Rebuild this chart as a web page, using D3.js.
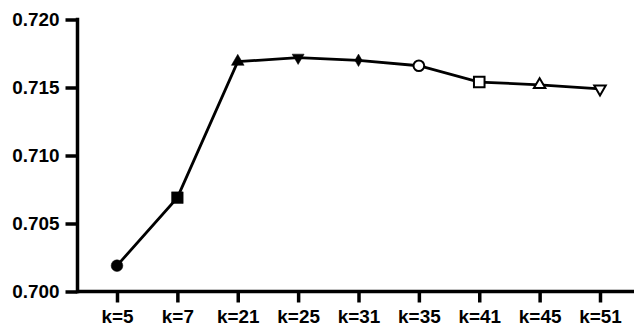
<!DOCTYPE html>
<html>
<head>
<meta charset="utf-8">
<script src="https://cdn.jsdelivr.net/npm/d3@7"></script>
<style>
  html, body { margin: 0; padding: 0; background: #fff; }
  svg text { font-family: "Liberation Sans", Arial, sans-serif; font-weight: bold; fill: #000; }
</style>
</head>
<body>
<svg id="chart" width="634" height="331"></svg>
<script>
// k values and the score reached at each
const categories = ["k=5", "k=7", "k=21", "k=25", "k=31", "k=35", "k=41", "k=45", "k=51"];
const scores = [0.7019, 0.7069, 0.7169, 0.7172, 0.7170, 0.7166, 0.7154, 0.7152, 0.7149];
// marker for each point: shape and whether filled
const shapes = ["circle", "square", "triangle", "triangleDown", "diamond", "circle", "square", "triangle", "triangleDown"];
const filled = [true, true, true, true, true, false, false, false, false];
const yTicks = [0.700, 0.705, 0.710, 0.715, 0.720];

const svg = d3.select("#chart");
const x = d3.scalePoint().domain(categories).range([117, 600]);
const y = d3.scaleLinear().domain([0.700, 0.720]).range([291.5, 19.5]);
const axisLeftX = 77.5;
const fontSize = 18;
const stretch = 1.05;

// y axis
const yAxis = svg.append("g")
  .attr("transform", `translate(${axisLeftX},0)`)
  .call(d3.axisLeft(y).tickValues(yTicks).tickFormat(d3.format(".3f")).tickSize(12));
yAxis.select(".domain").remove();
yAxis.append("line").attr("x1", 0).attr("x2", 0).attr("y1", y(0.720) - 1.75).attr("y2", y(0.700) + 1.75)
  .attr("stroke", "#000").attr("stroke-width", 3.5);
yAxis.selectAll(".tick line").attr("stroke", "#000").attr("stroke-width", 3.5);
yAxis.selectAll(".tick text")
  .attr("font-size", fontSize)
  .attr("dy", "0.36em")
  .attr("transform", `scale(${stretch},1)`)
  .attr("x", -18 / stretch);

// x axis
const xAxis = svg.append("g")
  .attr("transform", `translate(0,${y(0.700)})`)
  .call(d3.axisBottom(x).tickSize(11).tickPadding(8));
xAxis.select(".domain").remove();
xAxis.append("line").attr("x1", axisLeftX).attr("x2", 634).attr("y1", 0).attr("y2", 0)
  .attr("stroke", "#000").attr("stroke-width", 3.5);
xAxis.selectAll(".tick line").attr("stroke", "#000").attr("stroke-width", 3.5);
xAxis.selectAll(".tick text")
  .attr("font-size", fontSize)
  .attr("dy", "0.71em")
  .attr("transform", `scale(${stretch},1)`);

// line through the scores
const line = d3.line().x((d, i) => x(categories[i])).y(d => y(d));
svg.append("path").datum(scores)
  .attr("d", line).attr("fill", "none").attr("stroke", "#000").attr("stroke-width", 2.8);

// markers
const symbolFor = {
  circle: d3.symbolCircle,
  square: d3.symbolSquare,
  triangle: d3.symbolTriangle,
  triangleDown: d3.symbolTriangle,
  diamond: d3.symbolDiamond
};
const filledSize = { circle: 107, square: 135, triangle: 70, triangleDown: 62, diamond: 45 };
const openSize = { circle: 90, square: 112, triangle: 57, triangleDown: 57, diamond: 45 };
svg.append("g").selectAll("path")
  .data(scores)
  .join("path")
  .attr("transform", (d, i) => {
    const r = shapes[i] === "triangleDown" ? " rotate(180)" : "";
    return `translate(${x(categories[i])},${y(d)})${r}`;
  })
  .attr("d", (d, i) => d3.symbol(symbolFor[shapes[i]], (filled[i] ? filledSize : openSize)[shapes[i]])())
  .attr("fill", (d, i) => filled[i] ? "#000" : "#fff")
  .attr("stroke", "#000")
  .attr("stroke-width", (d, i) => filled[i] ? 0.5 : 2);
</script>
</body>
</html>
